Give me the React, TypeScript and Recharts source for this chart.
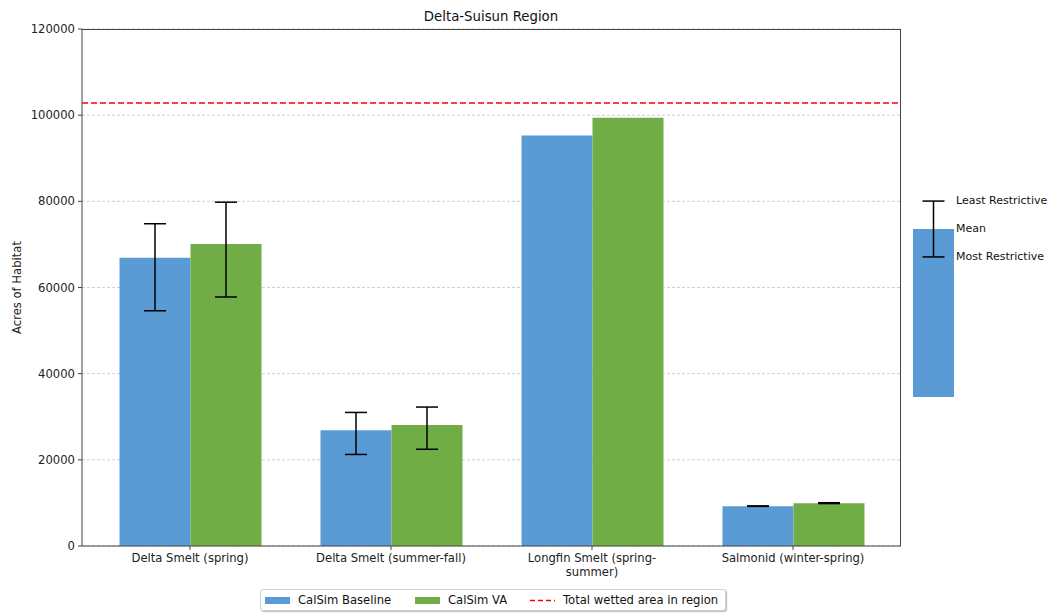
import React from 'react';
import {
  BarChart,
  Bar,
  XAxis,
  YAxis,
  CartesianGrid,
  ErrorBar,
  ReferenceLine,
} from 'recharts';

const categories = [
  'Delta Smelt (spring)',
  'Delta Smelt (summer-fall)',
  'Longfin Smelt (spring-\nsummer)',
  'Salmonid (winter-spring)',
];
const baselineMean = [66900, 26850, 95300, 9250];
const baselineMost = [54600, 21250, null, 9200];
const baselineLeast = [74800, 31000, null, 9300];
const vaMean = [70100, 28100, 99400, 9950];
const vaMost = [57800, 22450, null, 9850];
const vaLeast = [79800, 32250, null, 10050];
const wettedArea = 102800;
const yTicks = [0, 20000, 40000, 60000, 80000, 100000, 120000];

// key for the error bars (right of the plot)
const keyMean = [8];
const keyLow = [6.67];
const keyHigh = [9.33];
const keyLabels = ['Least Restrictive', 'Mean', 'Most Restrictive'];

const legendItems = [
  { label: 'CalSim Baseline', color: '#5B9BD5', kind: 'patch' },
  { label: 'CalSim VA', color: '#70AD47', kind: 'patch' },
  { label: 'Total wetted area in region', color: '#FF0000', kind: 'line' },
];

const FONT = '"DejaVu Sans", sans-serif';
const FS = 11.6;
const BLUE = '#5B9BD5';
const GREEN = '#70AD47';

const errDelta = (mean: number, low: number | null, high: number | null) =>
  low == null || high == null ? null : [mean - low, high - mean];

const data = categories.map((name, i) => ({
  name,
  baseline: baselineMean[i],
  baselineErr: errDelta(baselineMean[i], baselineMost[i], baselineLeast[i]),
  va: vaMean[i],
  vaErr: errDelta(vaMean[i], vaMost[i], vaLeast[i]),
}));

const keyData = keyMean.map((v, i) => ({
  name: 'key',
  mean: v,
  err: [v - keyLow[i], keyHigh[i] - v],
}));

function CategoryTick(props: any) {
  const { x, y, payload } = props;
  const lines = String(payload.value).split('\n');
  return (
    <g transform={`translate(${x},${y})`}>
      {lines.map((line, i) => (
        <text
          key={i}
          x={0}
          y={0}
          dy={10 + i * 13.5}
          textAnchor="middle"
          fill="#222"
          fontSize={FS}
          fontFamily={FONT}
        >
          {line}
        </text>
      ))}
    </g>
  );
}

const legendLefts = [4, 154, 269];

export default function App() {
  return (
    <div style={{ position: 'relative', width: 1041, height: 605, fontFamily: FONT }}>
      <div
        style={{
          position: 'absolute',
          left: 0,
          width: 966,
          top: 1,
          textAlign: 'center',
          fontSize: 13.3,
          color: '#111',
        }}
      >
        Delta-Suisun Region
      </div>

      <div style={{ position: 'absolute', left: 0, top: 0 }}>
        <BarChart
          width={900}
          height={590}
          data={data}
          margin={{ top: 21, right: 7, left: 14, bottom: 12 }}
          barGap={0}
          barSize={71}
        >
          <CartesianGrid
            vertical={false}
            stroke="#c4c4c4"
            strokeDasharray="3 2"
            strokeWidth={0.8}
          />
          <XAxis
            dataKey="name"
            height={40}
            padding={{ left: 7.5, right: 7.5 }}
            stroke="#444"
            tickSize={4}
            interval={0}
            tick={<CategoryTick />}
          />
          <YAxis
            width={60}
            domain={[0, 120000]}
            ticks={yTicks}
            interval={0}
            stroke="#444"
            tickSize={4}
            tickMargin={3}
            tick={{ fill: '#222', fontSize: FS, fontFamily: FONT }}
            label={{
              value: 'Acres of Habitat',
              angle: -90,
              position: 'left',
              offset: 5,
              style: { textAnchor: 'middle', fontSize: FS, fill: '#222', fontFamily: FONT },
            }}
          />
          <Bar dataKey="baseline" fill={BLUE} isAnimationActive={false}>
            <ErrorBar dataKey="baselineErr" width={11} stroke="#000" strokeWidth={1.5} />
          </Bar>
          <Bar dataKey="va" fill={GREEN} isAnimationActive={false}>
            <ErrorBar dataKey="vaErr" width={11} stroke="#000" strokeWidth={1.5} />
          </Bar>
          <ReferenceLine
            y={wettedArea}
            stroke="#FF0000"
            strokeWidth={1.5}
            strokeDasharray="6 3"
          />
        </BarChart>
      </div>
      {/* top and right frame of the plot */}
      <div
        style={{
          position: 'absolute',
          left: 74,
          top: 21,
          width: 819,
          height: 517,
          boxSizing: 'border-box',
          borderTop: '1px solid #444',
          borderRight: '1px solid #444',
          pointerEvents: 'none',
        }}
      />

      {/* error bar key */}
      <div style={{ position: 'absolute', left: 895, top: 179 }}>
        <BarChart
          width={60}
          height={210}
          data={keyData}
          margin={{ top: 0, right: 0, left: 0, bottom: 0 }}
          barSize={41}
        >
          <XAxis dataKey="name" hide />
          <YAxis hide domain={[0, 10]} />
          <Bar dataKey="mean" fill={BLUE} isAnimationActive={false}>
            <ErrorBar dataKey="err" width={11} stroke="#000" strokeWidth={1.5} />
          </Bar>
        </BarChart>
      </div>
      {keyLabels.map((t, i) => (
        <div
          key={t}
          style={{
            position: 'absolute',
            left: 948,
            top: 186 + i * 28,
            fontSize: 11,
            lineHeight: '14px',
            color: '#111',
            whiteSpace: 'nowrap',
          }}
        >
          {t}
        </div>
      ))}

      {/* legend */}
      <div
        style={{
          position: 'absolute',
          left: 252,
          top: 581,
          width: 464,
          height: 20,
          border: '1px solid #cfcfcf',
          borderRadius: 3,
          boxShadow: '1px 1px 1px #bbb',
          background: '#fff',
        }}
      >
        {legendItems.map((it, i) => (
          <div
            key={it.label}
            style={{
              position: 'absolute',
              left: legendLefts[i],
              top: 3,
              display: 'flex',
              alignItems: 'center',
              fontSize: FS,
              lineHeight: '14px',
              color: '#111',
              whiteSpace: 'nowrap',
            }}
          >
            {it.kind === 'patch' ? (
              <span style={{ width: 25, height: 7, background: it.color, marginRight: 8 }} />
            ) : (
              <svg width={25} height={7} style={{ marginRight: 8 }}>
                <line x1={0} y1={3.5} x2={25} y2={3.5} stroke={it.color} strokeWidth={1.5} strokeDasharray="5 3" />
              </svg>
            )}
            <span>{it.label}</span>
          </div>
        ))}
      </div>
    </div>
  );
}
